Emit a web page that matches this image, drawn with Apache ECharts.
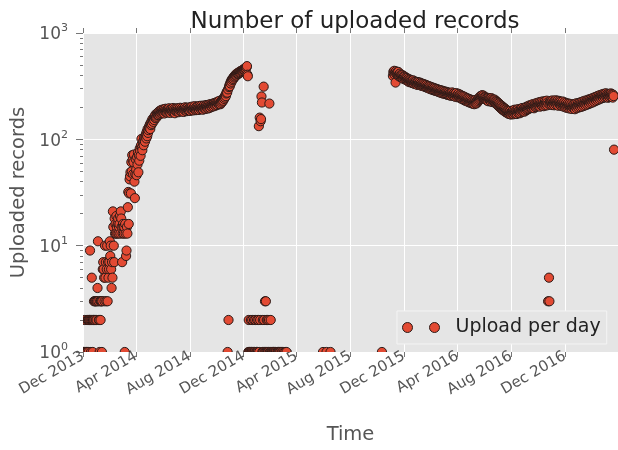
<!DOCTYPE html>
<html>
<head>
<meta charset="utf-8">
<script src="https://cdn.jsdelivr.net/npm/echarts@6/dist/echarts.min.js"></script>
<style>
  html, body { margin: 0; padding: 0; background: #fff; }
  #chart { width: 618px; height: 450px; }
</style>
</head>
<body>
<div id="chart"></div>
<script>
// Daily upload counts. Each run starts on its date and holds one value per day;
// null marks a day with nothing uploaded (not drawable on a log axis).
const winter1314Start = '2013-12-01';
const winter1314 = [
  1, 1, null, 1, 2, 1, null, 1, 1, 2,
  1, 2, 2, 1, 2, 2, 9, 2, 1, 2,
  5, 2, 1, 2, 2, 3, 2, 3, 3, 2,
  3, 2, 3, 4, 11, 3, 2, 2, 1, 3,
  2, 3, 3, 1, 3, 6, 7, 6, 5, 3,
  10, 5, 7, 3, 6, 10, 3, 7, 5, 6,
  7, 11, 8, 10, 6, 4, 7, 5, 21, 15,
  10, 7, 18, 13, 16, 13, 19, 15, 13, 16,
  18, 13, 15, 16, 19, 13, 21, 18, 15, 7,
  13, 16, 15, 13, 15, 1, 16, 13, 8, 9,
  15, 13, 23, 32, 16, 31, 42, 45, 49, 31,
  61, 50, 71, 64, 47, 61, 72, 40, 28, 47,
  65
];

const growth2014Start = '2014-04-01';
const growth2014 = [
  52, 46, 68, 58, 75, 49, 71, 63, 82, 78,
  70, 88, 101, 84, 79, 92, 96, 88, 104, 98,
  95, 108, 112, 102, 118, 107, 125, 115, 122, 131,
  127, 138, 125, 142, 136, 148, 140, 155, 150, 146,
  158, 152, 165, 160, 171, 158, 163, 175, 168, 172,
  180, 169, 176, 185, 172, 179, 188, 176, 183, 190,
  178, 186, 181, 192, 175, 187, 182, 194, 180, 189,
  185, 178, 193, 187, 181, 196, 184, 190, 177, 188,
  193, 182, 190, 186, 197, 181, 189, 193, 176, 186,
  191, 184, 196, 188, 182, 195, 187, 180, 192, 186,
  198, 185, 190, 194, 183, 197, 188, 192, 181, 195,
  189, 200, 186, 193, 197, 184, 191, 199, 188, 194,
  186, 198, 192, 185, 201, 194, 189, 203, 190, 196,
  187, 199, 193, 205, 191, 197, 188, 202, 195, 190,
  204, 193, 198, 189, 206, 196, 201, 192, 207, 198,
  194, 203, 190, 200, 208, 195, 199, 206, 193, 210,
  201, 197, 209, 204, 195, 212, 200, 207, 198, 214,
  205, 211, 202, 216, 208, 213, 204, 219, 210, 215,
  207, 222, 213, 218, 210, 226, 217, 223, 214, 230,
  216, 222, 214, 228, 220, 233, 226, 238, 231, 245,
  240, 252, 247, 260, 255, 270, 280, 275, 1, 295,
  2, 310, 322, 316, 340, 335, 355, 348, 368, 362,
  375, 370, 388, 381, 396, 390, 402, 410, 398, 415,
  408, 420, 413, 426, 418, 431, 422, 437, 428, 441,
  433, 446, 438, 452, 443, 458, 449, 463, 455, 470,
  462, 478, 488, 405, 392
];

const lull2015Start = '2014-12-12';
const lull2015 = [
  1, 2, 1, 1, null, 1, 2, 1, 1, 2,
  1, null, 1, 2, 1, 1, 2, null, 1, 1,
  2, 1, 1, 2, 133, 1, 160, 2, 148, 155,
  253, 222, 1, 2, 1, 313, 2, 1, 3, 1,
  3, 1, 2, 1, 2, 1, 1, 2, 217, 1,
  1, 2, 1, null, 1, 1, null, 1, 1, null,
  1, null, 1, 1, null, null, 1, null, 1, 1,
  null, 1, null, 1, null, null, 1, null, 1, null,
  null, 1, null, null, 1, null, null, 1
];

// Isolated days during the 2015 gap
const sparseDates = ['2015-05-31', '2015-06-08', '2015-06-17', '2015-10-12'];
const sparseValues = [1, 1, 1, 1];

const steady1617Start = '2015-11-06';
const steady1617 = [
  395, 432, 418, 441, 405, 427, 342, 436, 412, 425,
  418, 402, 431, 396, 410, 389, 415, 398, 383, 404,
  392, 378, 401, 385, 370, 393, 376, 388, 365, 381,
  372, 359, 377, 364, 352, 370, 358, 345, 366, 350,
  361, 347, 356, 340, 352, 338, 359, 344, 333, 351,
  341, 336, 348, 329, 343, 334, 325, 346, 331, 338,
  327, 342, 330, 321, 337, 326, 318, 334, 323, 316,
  331, 320, 313, 327, 316, 309, 324, 312, 305, 319,
  310, 302, 316, 306, 298, 313, 301, 295, 309, 299,
  292, 306, 296, 289, 303, 293, 286, 300, 290, 284,
  297, 288, 281, 294, 284, 278, 291, 282, 275, 289,
  279, 272, 287, 277, 270, 284, 274, 268, 281, 272,
  266, 280, 270, 263, 277, 268, 261, 275, 266, 259,
  273, 264, 257, 271, 262, 276, 260, 268, 255, 270,
  261, 252, 266, 258, 272, 256, 249, 264, 255, 268,
  251, 260, 246, 263, 254, 242, 258, 249, 238, 255,
  245, 236, 252, 241, 231, 248, 238, 229, 244, 235,
  226, 242, 232, 223, 239, 229, 221, 236, 226, 218,
  233, 224, 216, 231, 221, 214, 229, 219, 235, 224,
  217, 232, 222, 238, 228, 243, 234, 248, 239, 254,
  244, 257, 248, 260, 251, 246, 258, 243, 252, 240,
  249, 237, 246, 234, 243, 231, 240, 228, 245, 236,
  242, 230, 239, 226, 244, 233, 238, 224, 235, 229,
  226, 237, 221, 232, 218, 228, 214, 225, 210, 221,
  206, 218, 202, 214, 199, 210, 195, 207, 192, 203,
  189, 200, 186, 197, 184, 194, 181, 191, 179, 188,
  177, 186, 175, 184, 173, 182, 176, 185, 171, 180,
  174, 183, 178, 187, 172, 181, 176, 190, 175, 184,
  179, 188, 173, 183, 192, 177, 186, 181, 191, 176,
  185, 194, 180, 189, 197, 183, 192, 186, 196, 182,
  191, 199, 186, 195, 203, 189, 198, 192, 206, 194,
  201, 209, 196, 205, 199, 211, 197, 206, 214, 200,
  208, 196, 212, 203, 217, 201, 209, 219, 204, 213,
  221, 206, 214, 209, 224, 203, 216, 211, 226, 207,
  218, 213, 227, 205, 219, 212, 229, 208, 221, 215,
  231, 209, 223, 3, 216, 5, 3, 225, 212, 230,
  217, 226, 210, 232, 219, 214, 228, 209, 224, 218,
  233, 212, 227, 220, 215, 231, 207, 223, 217, 229,
  211, 225, 216, 206, 221, 212, 227, 204, 218, 209,
  223, 201, 215, 207, 220, 198, 213, 205, 217, 196,
  210, 203, 216, 195, 208, 200, 214, 193, 206, 199,
  212, 197, 205, 215, 192, 208, 201, 218, 196, 210,
  204, 219, 199, 213, 207, 222, 201, 215, 209, 225,
  203, 218, 212, 228, 206, 221, 214, 231, 209, 224,
  217, 233, 212, 228, 220, 237, 215, 231, 224, 240,
  219, 235, 227, 243, 222, 238, 231, 247, 226, 242,
  235, 251, 230, 246, 239, 255, 234, 250, 243, 259,
  238, 254, 247, 262, 242, 258, 251, 266, 245, 261,
  254, 269, 248, 263, 257, 271, 250, 265, 259, 246,
  262, 253, 268, 249, 264, 256, 270, 251, 266, 258,
  247, 263, 255, 80
];

// Axis ticks
const xTickDates = ['2013-12-01', '2014-04-01', '2014-08-01', '2014-12-01', '2015-04-01',
  '2015-08-01', '2015-12-01', '2016-04-01', '2016-08-01', '2016-12-01'];
const xTickLabels = ['Dec 2013', 'Apr 2014', 'Aug 2014', 'Dec 2014', 'Apr 2015',
  'Aug 2015', 'Dec 2015', 'Apr 2016', 'Aug 2016', 'Dec 2016'];
const xRange = ['2013-12-01', '2017-04-01'];
const yRange = [1, 1000];
const yMinorTicks = [2, 3, 4, 5, 6, 7, 8, 9, 20, 30, 40, 50, 60, 70, 80, 90,
  200, 300, 400, 500, 600, 700, 800, 900];

function dayStamp(start, offset) {
  const p = start.split('-').map(Number);
  return new Date(p[0], p[1] - 1, p[2] + offset).getTime();
}

const points = [];
function addRun(start, values) {
  values.forEach(function (v, i) {
    if (v != null) points.push([dayStamp(start, i), v]);
  });
}
addRun(winter1314Start, winter1314);
addRun(growth2014Start, growth2014);
addRun(lull2015Start, lull2015);
sparseDates.forEach(function (d, i) { points.push([dayStamp(d, 0), sparseValues[i]]); });
addRun(steady1617Start, steady1617);

const tickStamps = xTickDates.map(function (d) { return dayStamp(d, 0); });

const FONT = 'DejaVu Sans';
const RED = '#E24A33';
const EDGE = '#2b1a17';
const TICK = '#777777';
const LABEL = '#555555';

const chart = echarts.init(document.getElementById('chart'), null, { renderer: 'canvas' });

chart.setOption({
  animation: false,
  backgroundColor: '#ffffff',
  textStyle: { fontFamily: FONT },
  title: {
    text: 'Number of uploaded records',
    left: 350,
    top: 6,
    textAlign: 'center',
    textStyle: { fontFamily: FONT, fontSize: 23, fontWeight: 'normal', color: '#222222' }
  },
  grid: {
    show: true,
    left: 83,
    top: 33,
    width: 539,
    height: 322,
    backgroundColor: '#E5E5E5',
    borderWidth: 0,
    containLabel: false
  },
  legend: {
    data: ['Upload per day'],
    left: 397,
    top: 311,
    orient: 'horizontal',
    padding: [7, 6, 7, 5],
    backgroundColor: '#E5E5E5',
    borderColor: '#f4f4f4',
    borderWidth: 1,
    borderRadius: 0,
    itemWidth: 37,
    itemHeight: 10,
    icon: 'path://M0,5a5,5 0 1,0 10,0a5,5 0 1,0 -10,0ZM27,5a5,5 0 1,0 10,0a5,5 0 1,0 -10,0Z',
    itemStyle: { color: RED, borderColor: EDGE, borderWidth: 1 },
    selectedMode: false,
    textStyle: { fontFamily: FONT, fontSize: 19, color: '#222222', padding: [0, 0, 0, 11] }
  },
  xAxis: [
    {
      // timestamps on a linear scale
      type: 'value',
      position: 'bottom',
      min: dayStamp(xRange[0], 0),
      max: dayStamp(xRange[1], 0),
      name: 'Time',
      nameLocation: 'middle',
      nameGap: 73,
      nameTextStyle: { fontFamily: FONT, fontSize: 19.5, color: LABEL },
      axisLine: { show: false },
      axisTick: { show: true, length: 5, customValues: tickStamps, lineStyle: { color: TICK, width: 1 } },
      axisLabel: {
        show: true,
        customValues: tickStamps,
        rotate: 30,
        margin: 3,
        fontFamily: FONT,
        fontSize: 15,
        color: LABEL,
        formatter: function (v) {
          const i = tickStamps.indexOf(v);
          return i >= 0 ? xTickLabels[i] : '';
        }
      },
      splitLine: { show: true, lineStyle: { color: '#ffffff', width: 1 } }
    },
    {
      type: 'value',
      position: 'top',
      min: dayStamp(xRange[0], 0),
      max: dayStamp(xRange[1], 0),
      axisLine: { show: false },
      axisTick: { show: true, length: 5, customValues: tickStamps, lineStyle: { color: TICK, width: 1 } },
      axisLabel: { show: false },
      splitLine: { show: false }
    }
  ],
  yAxis: [
    {
      type: 'log',
      logBase: 10,
      min: yRange[0],
      max: yRange[1],
      position: 'left',
      name: 'Uploaded records',
      nameLocation: 'middle',
      nameGap: 53,
      nameTextStyle: { fontFamily: FONT, fontSize: 19.5, color: LABEL },
      axisLine: { show: false },
      axisTick: { show: true, length: 7, lineStyle: { color: TICK, width: 1 } },
      axisLabel: {
        margin: 15,
        formatter: function (v) {
          return '{b|10}{s|' + Math.round(Math.log10(v)) + '}';
        },
        rich: {
          b: { fontFamily: FONT, fontSize: 17, color: LABEL, lineHeight: 20, padding: [4, 0, 0, 0] },
          s: { fontFamily: FONT, fontSize: 11, color: LABEL, verticalAlign: 'top', lineHeight: 11 }
        }
      },
      splitLine: { show: true, lineStyle: { color: '#ffffff', width: 1 } }
    },
    {
      // minor ticks of the log axis, placed in exponent space
      type: 'value',
      min: 0,
      max: 3,
      position: 'left',
      axisLine: { show: false },
      axisLabel: { show: false },
      splitLine: { show: false },
      axisTick: {
        show: true,
        length: 3,
        customValues: yMinorTicks.map(function (v) { return Math.log10(v); }),
        lineStyle: { color: TICK, width: 1 }
      }
    }
  ],
  series: [
    {
      name: 'Upload per day',
      type: 'custom',
      xAxisIndex: 0,
      yAxisIndex: 0,
      clip: true,
      data: points,
      encode: { x: 0, y: 1 },
      itemStyle: { color: RED, borderColor: EDGE, borderWidth: 1 },
      renderItem: function (params, api) {
        const p = api.coord([api.value(0), api.value(1)]);
        return {
          type: 'circle',
          shape: { cx: p[0], cy: p[1], r: 4.6 },
          style: { fill: RED, stroke: EDGE, lineWidth: 1 }
        };
      }
    }
  ]
});
</script>
</body>
</html>
